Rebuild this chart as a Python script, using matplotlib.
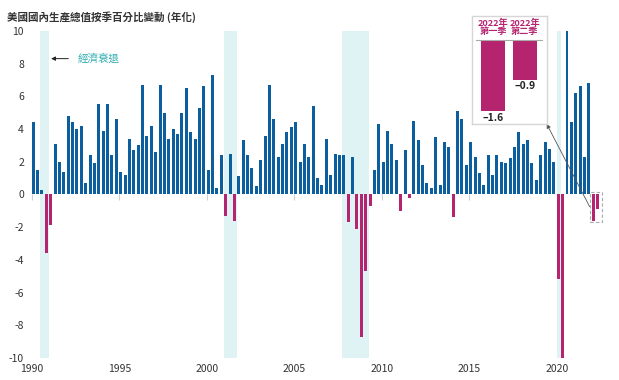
import numpy as np
import matplotlib.pyplot as plt
from matplotlib.patches import Rectangle

# fonts: CJK family first, DejaVu as fallback
plt.rcParams['font.family'] = ['Noto Sans CJK TC', 'DejaVu Sans']
plt.rcParams['axes.unicode_minus'] = False

# quarterly real GDP growth, % annualised, 1990 Q1 onwards
start_year = 1990
growth_1990s = [4.4, 1.5, 0.3, -3.6, -1.9, 3.1, 2.0, 1.4, 4.8, 4.4, 4.0, 4.2,
                0.7, 2.4, 1.9, 5.5, 3.9, 5.5, 2.4, 4.6, 1.4, 1.2, 3.4, 2.7,
                3.0, 6.7, 3.6, 4.2, 2.6, 6.7, 5.0, 3.4, 4.0, 3.7, 5.0, 6.5,
                3.8, 3.4, 5.3, 6.6]
growth_2000s = [1.5, 7.3, 0.4, 2.4, -1.3, 2.5, -1.6, 1.1, 3.3, 2.4, 1.6, 0.5,
                2.1, 3.6, 6.7, 4.6, 2.3, 3.1, 3.8, 4.1, 4.4, 2.0, 3.1, 2.3,
                5.4, 1.0, 0.6, 3.4, 1.2, 2.5, 2.4, 2.4, -1.7, 2.3, -2.1, -8.7,
                -4.7, -0.7, 1.5, 4.3]
growth_2010s = [2.0, 3.9, 3.1, 2.1, -1.0, 2.7, -0.2, 4.5, 3.3, 1.8, 0.7, 0.4,
                3.5, 0.6, 3.2, 2.9, -1.4, 5.1, 4.6, 1.8, 3.2, 2.3, 1.3, 0.6,
                2.4, 1.2, 2.4, 2.0, 1.9, 2.2, 2.9, 3.8, 3.1, 3.3, 1.9, 0.9,
                2.4, 3.2, 2.8, 2.0]
growth_2020s = [-5.2, -31.2, 33.8, 4.4, 6.2, 6.6, 2.3, 6.8]
growth_2022 = [-1.6, -0.9]
labels_2022 = ['2022年\n第一季', '2022年\n第二季']

# recessions (start, end) in fractional years
recessions = [(1990.5, 1991.0), (2001.0, 2001.75), (2007.75, 2009.25), (2020.0, 2020.25)]
year_ticks = [1990, 1995, 2000, 2005, 2010, 2015, 2020]
y_ticks = [-10, -8, -6, -4, -2, 0, 2, 4, 6, 8, 10]

blue = '#0b5f9f'
magenta = '#b5246f'
shade = '#dff3f5'
teal = '#2aacb0'
text_col = '#333333'

values = np.array(growth_1990s + growth_2000s + growth_2010s + growth_2020s + growth_2022)
xpos = start_year + np.arange(len(values)) / 4
colors = [blue if v >= 0 else magenta for v in values]

fig = plt.figure(figsize=(6.19, 3.80), dpi=100)
ax = fig.add_axes([0.0456, 0.0579, 0.933, 0.861])

for s, e in recessions:
    ax.axvspan(s, e, color=shade, lw=0, zorder=0)

ax.bar(xpos, values, width=0.17, align='edge', color=colors, lw=0, zorder=2)

ax.set_xlim(1989.8, 2022.8)
ax.set_ylim(-10, 10)
ax.set_yticks(y_ticks)
ax.tick_params(axis='y', length=0, pad=3, labelsize=7.5, colors=text_col)
for side in ['left', 'right', 'top']:
    ax.spines[side].set_visible(False)

# small tick marks hang under the zero line, year labels sit at the bottom
ax.spines['bottom'].set_position(('data', 0))
ax.spines['bottom'].set_color('none')
ax.set_xticks(year_ticks)
ax.tick_params(axis='x', length=4, width=0.8, color='#d0d0d0', labelbottom=False)
sec = ax.secondary_xaxis('bottom')
sec.set_xticks(year_ticks)
sec.tick_params(length=0, pad=4, labelsize=7.5, colors=text_col)
sec.spines['bottom'].set_visible(False)

fig.text(7 / 619, 1 - 17 / 380, '美國國內生產總值按季百分比變動 (年化)', fontsize=7.6,
         fontweight='bold', color=text_col, ha='left', va='center')

# recession label with arrow
ax.annotate('', xy=(1990.95, 8.3), xytext=(1992.25, 8.3),
            arrowprops=dict(arrowstyle='-|>', color='#222222', lw=0.7, mutation_scale=6))
ax.text(1992.65, 8.3, '經濟衰退', color=teal, fontsize=7.6, ha='left', va='center')

# dashed box around the 2022 bars
x22 = xpos[-len(growth_2022):]
box = Rectangle((x22[0] - 0.12, min(growth_2022) - 0.1), x22[-1] - x22[0] + 0.17 + 0.3,
                abs(min(growth_2022)) + 0.25, fill=False, ls=(0, (3, 2)),
                ec='#aaaaaa', lw=0.8, zorder=3)
ax.add_patch(box)

# inset with the 2022 quarters
ins = fig.add_axes([471.7 / 619, 1 - 124 / 380, 75 / 619, 108.3 / 380])
ins.set_facecolor('white')
ins.bar([0, 1], growth_2022, width=0.757, color=magenta, lw=0)
ins.set_xlim(-0.672, 1.694)
ins.set_ylim(-1.89, 0.547)
ins.set_xticks([])
ins.set_yticks([])
for sp in ins.spines.values():
    sp.set_color('#d6d6d6')
    sp.set_linewidth(1)
ins.axhline(0, xmin=0.057, xmax=0.933, color='#aaaaaa', lw=0.8)
for i, (lab, v) in enumerate(zip(labels_2022, growth_2022)):
    ins.text(i, 0.28, lab, color=magenta, fontsize=6.6, fontweight='bold',
             ha='center', va='center', linespacing=0.95)
    ins.annotate(f'\u2013{abs(v):.1f}', xy=(i, v), xytext=(0, -1), textcoords='offset points',
                 ha='center', va='top', fontsize=7.4, fontweight='bold', color='#222222')

# connector from the dashed box to the inset
ax.annotate('', xy=(1, 0), xycoords=ins.transAxes,
            xytext=(x22[0] - 0.12, -0.75), textcoords='data',
            arrowprops=dict(arrowstyle='-|>', color='#555555', lw=0.6, mutation_scale=6,
                            shrinkA=0, shrinkB=0),
            annotation_clip=False, zorder=5)

fig.savefig('out.png', dpi=100)
